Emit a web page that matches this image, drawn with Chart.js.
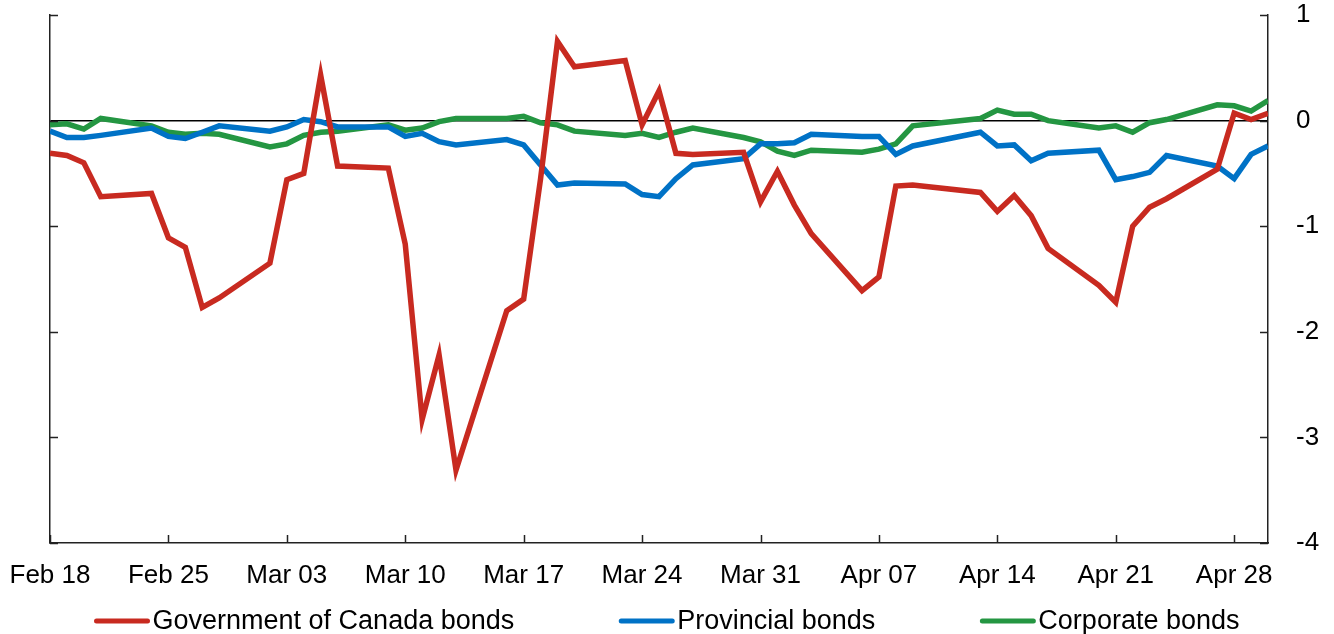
<!DOCTYPE html>
<html>
<head>
<meta charset="utf-8">
<script src="https://cdn.jsdelivr.net/npm/chart.js@4/dist/chart.umd.min.js"></script>
<style>
  html, body { margin: 0; padding: 0; background: #fff; }
  #wrap { width: 1334px; height: 634px; }
</style>
</head>
<body>
<div id="wrap"><canvas id="myChart" width="1334" height="634"></canvas></div>
<script>
// days since Feb 18 (business days only)
const days = [0, 1, 2, 3, 6, 7, 8, 9, 10, 13, 14, 15, 16, 17, 20, 21, 22, 23, 24, 27, 28, 29, 30, 31,
  34, 35, 36, 37, 38, 41, 42, 43, 44, 45, 48, 49, 50, 51, 52, 55, 56, 57, 58, 59, 62, 63, 64, 65, 66,
  69, 70, 71, 72];

const govBonds = [-0.31, -0.33, -0.40, -0.72, -0.69, -1.11, -1.20, -1.77, -1.68, -1.35, -0.56, -0.50, 0.43, -0.43,
  -0.45, -1.17, -2.83, -2.22, -3.31, -1.80, -1.69, -0.55, 0.75, 0.51, 0.57, -0.04, 0.28, -0.31, -0.32,
  -0.30, -0.77, -0.48, -0.80, -1.07, -1.61, -1.48, -0.62, -0.61, null, -0.68, -0.86, -0.71, -0.90, -1.21,
  -1.56, -1.72, -1.00, -0.82, -0.74, -0.46, 0.07, 0.01, 0.07];

const provBonds = [-0.10, -0.16, -0.16, -0.14, -0.07, -0.15, -0.17, -0.11, -0.05, -0.10, -0.06, 0.01, -0.01, -0.06,
  -0.06, -0.15, -0.12, -0.20, -0.23, -0.18, -0.23, -0.42, -0.61, -0.59, -0.60, -0.70, -0.72, -0.55, -0.42,
  -0.36, -0.22, -0.22, -0.21, -0.13, -0.15, -0.15, -0.32, -0.24, null, -0.11, -0.24, -0.23, -0.38, -0.31,
  -0.28, -0.56, -0.53, -0.49, -0.33, -0.43, -0.55, -0.32, -0.24];

const corpBonds = [-0.04, -0.03, -0.08, 0.02, -0.05, -0.11, -0.13, -0.12, -0.13, -0.25, -0.22, -0.14, -0.11, -0.10,
  -0.04, -0.09, -0.07, -0.01, 0.02, 0.02, 0.04, -0.02, -0.04, -0.10, -0.14, -0.12, -0.16, -0.11, -0.07,
  -0.16, -0.20, -0.29, -0.33, -0.28, -0.30, -0.27, -0.22, -0.05, null, 0.02, 0.10, 0.06, 0.06, 0.00,
  -0.07, -0.05, -0.11, -0.02, 0.01, 0.15, 0.14, 0.09, 0.19];

const tickDays = [0, 7, 14, 21, 28, 35, 42, 49, 56, 63, 70];
const tickLabels = ['Feb 18', 'Feb 25', 'Mar 03', 'Mar 10', 'Mar 17', 'Mar 24', 'Mar 31', 'Apr 07', 'Apr 14', 'Apr 21', 'Apr 28'];
const yTicks = [1, 0, -1, -2, -3, -4];

const RED = 'rgb(200,42,32)';
const BLUE = 'rgb(0,114,198)';
const GREEN = 'rgb(36,150,66)';

Chart.defaults.font.family = '"Liberation Sans", Arial, sans-serif';
Chart.defaults.color = '#000';

const toPoints = (vals) => days.map((d, i) => ({ x: d, y: vals[i] }));

// inward tick marks on left, right and bottom axes
const innerTicks = {
  id: 'innerTicks',
  afterDatasetsDraw(chart) {
    const ctx = chart.ctx;
    const a = chart.chartArea;
    const x = chart.scales.x, y = chart.scales.y;
    ctx.save();
    ctx.strokeStyle = '#222';
    ctx.lineWidth = 1.5;
    ctx.beginPath();
    yTicks.forEach(v => {
      const py = Math.round(y.getPixelForValue(v)) + 0.5;
      ctx.moveTo(a.left, py); ctx.lineTo(a.left + 8, py);
      ctx.moveTo(a.right, py); ctx.lineTo(a.right - 8, py);
    });
    tickDays.forEach(d => {
      const px = Math.round(x.getPixelForValue(d)) + 0.5;
      ctx.moveTo(px, a.bottom); ctx.lineTo(px, a.bottom - 8);
    });
    ctx.stroke();
    ctx.restore();
  }
};

// legend drawn under the axis labels
const bottomLegend = {
  id: 'bottomLegend',
  afterDraw(chart) {
    const ctx = chart.ctx;
    const sets = chart.data.datasets;
    const lineW = 55, gapText = 3, gapItem = 105, cy = 621;
    ctx.save();
    ctx.font = '27px "Liberation Sans", Arial, sans-serif';
    ctx.textBaseline = 'middle';
    const widths = sets.map(ds => lineW + gapText + ctx.measureText(ds.label).width);
    const total = widths.reduce((s, w) => s + w, 0) + gapItem * (sets.length - 1);
    let cx = (chart.width - total) / 2;
    sets.forEach((ds, i) => {
      ctx.strokeStyle = ds.borderColor;
      ctx.lineWidth = 5;
      ctx.lineCap = 'round';
      ctx.beginPath();
      ctx.moveTo(cx + 2, cy); ctx.lineTo(cx + lineW - 2, cy);
      ctx.stroke();
      ctx.fillStyle = '#000';
      ctx.fillText(ds.label, cx + lineW + gapText, cy + 1);
      cx += widths[i] + gapItem;
    });
    ctx.restore();
  }
};

new Chart(document.getElementById('myChart'), {
  type: 'line',
  data: {
    datasets: [
      { label: 'Government of Canada bonds', data: toPoints(govBonds), borderColor: RED },
      { label: 'Provincial bonds', data: toPoints(provBonds), borderColor: BLUE },
      { label: 'Corporate bonds', data: toPoints(corpBonds), borderColor: GREEN }
    ]
  },
  options: {
    responsive: false,
    animation: false,
    spanGaps: true,
    layout: { padding: { top: 15, left: 0, right: 0, bottom: 45 } },
    elements: {
      line: { borderWidth: 5.5, tension: 0, borderJoinStyle: 'miter', fill: false },
      point: { radius: 0 }
    },
    plugins: {
      legend: { display: false },
      tooltip: { enabled: false }
    },
    scales: {
      x: {
        type: 'linear',
        min: 0,
        max: 72,
        afterBuildTicks: (scale) => { scale.ticks = tickDays.map(v => ({ value: v })); },
        afterFit: (scale) => { scale.height = 46; scale.paddingLeft = 0; scale.paddingRight = 0; },
        ticks: {
          autoSkip: false,
          maxRotation: 0,
          padding: 17,
          font: { size: 26 },
          callback: (v) => tickLabels[tickDays.indexOf(v)] || ''
        },
        grid: { display: false, drawTicks: false },
        border: { display: true, color: '#222', width: 1.5 }
      },
      y: {
        position: 'left',
        min: -4,
        max: 1,
        afterFit: (scale) => { scale.width = 50; scale.paddingTop = 0; scale.paddingBottom = 0; },
        ticks: { display: false, stepSize: 1 },
        grid: {
          drawTicks: false,
          color: (c) => (c.tick && c.tick.value === 0 ? '#000' : 'transparent'),
          lineWidth: 1.5
        },
        border: { display: true, color: '#222', width: 1.5 }
      },
      y1: {
        position: 'right',
        min: -4,
        max: 1,
        afterFit: (scale) => { scale.width = 66; scale.paddingTop = 0; scale.paddingBottom = 0; },
        ticks: { stepSize: 1, padding: 28, font: { size: 26 } },
        grid: { display: false, drawTicks: false },
        border: { display: true, color: '#222', width: 1.5 }
      }
    }
  },
  plugins: [innerTicks, bottomLegend]
});
</script>
</body>
</html>
